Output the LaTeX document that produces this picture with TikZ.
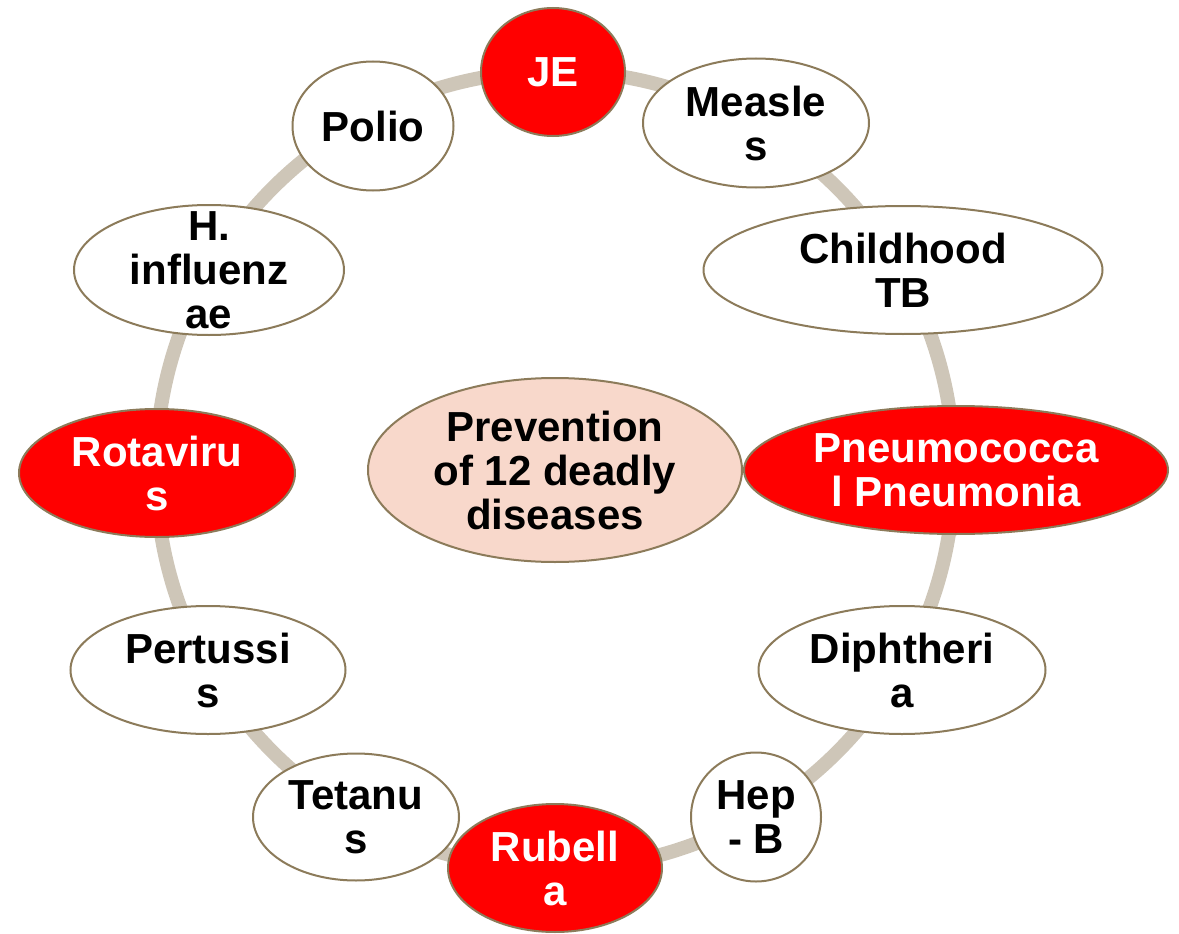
\documentclass[tikz,border=0pt]{standalone}
\usepackage{fontspec}
\setmainfont{Liberation Sans}
\usetikzlibrary{shapes.geometric}
\definecolor{ringc}{RGB}{206,198,184}
\definecolor{edgec}{RGB}{140,123,90}
\definecolor{hubfill}{RGB}{248,216,203}
\definecolor{hot}{RGB}{255,0,0}
\begin{document}
\begin{tikzpicture}[x=1pt,y=-1pt,
  disc/.style={ellipse, draw=edgec, line width=2pt, inner sep=0pt, fill=white},
  hotdisc/.style={disc, fill=hot},
  lbl/.style={align=center, font=\fontsize{42}{44}\selectfont\bfseries, inner sep=0pt, text=black},
  hotlbl/.style={lbl, text=white},
  ring/.style={draw=ringc, line width=14pt}]
\useasboundingbox (0,0) rectangle (1179,934);
\coordinate (O) at (555,470);
\draw[ring] (O) circle (399pt);

% hub
\node[disc, fill=hubfill, minimum width=374pt, minimum height=184pt] (hub) at (555,470) {};
\node[lbl] (hubt) at (hub) {Prevention\\of 12 deadly\\diseases};

% ring nodes
\node[hotdisc, minimum width=144pt, minimum height=128pt] (je) at (553,72) {};
\node[hotlbl] (jet) at (je) {JE};

\node[disc, minimum width=226pt, minimum height=129pt] (measles) at (756,123) {};
\node[lbl] (measlest) at (measles) {Measle\\s};

\node[disc, minimum width=399pt, minimum height=128pt] (tb) at (903,270) {};
\node[lbl] (tbt) at (tb) {Childhood\\TB};

\node[hotdisc, minimum width=424pt, minimum height=128pt] (pneu) at (956,470) {};
\node[hotlbl] (pneut) at (pneu) {Pneumococca\\l Pneumonia};

\node[disc, minimum width=287pt, minimum height=128pt] (diph) at (902,670) {};
\node[lbl] (dipht) at (diph) {Diphtheri\\a};

\node[disc, minimum width=130pt, minimum height=129pt] (hepb) at (756,817) {};
\node[lbl] (hepbt) at (hepb) {Hep\\- B};

\node[hotdisc, minimum width=214pt, minimum height=128pt] (rub) at (555,868) {};
\node[hotlbl] (rubt) at (rub) {Rubell\\a};

\node[disc, minimum width=206pt, minimum height=127pt] (tet) at (356,817) {};
\node[lbl] (tett) at (tet) {Tetanu\\s};

\node[disc, minimum width=275pt, minimum height=128pt] (pert) at (208,670) {};
\node[lbl] (pertt) at (pert) {Pertussi\\s};

\node[hotdisc, minimum width=276pt, minimum height=128pt] (rota) at (157,473) {};
\node[hotlbl] (rotat) at (rota) {Rotaviru\\s};

\node[disc, minimum width=270pt, minimum height=130pt] (hinf) at (209,270) {};
\node[lbl] (hinft) at (hinf) {H.\\influenz\\ae};

\node[disc, minimum width=161pt, minimum height=129pt] (polio) at (373,126) {};
\node[lbl] (poliot) at (polio) {Polio};
\end{tikzpicture}
\end{document}
